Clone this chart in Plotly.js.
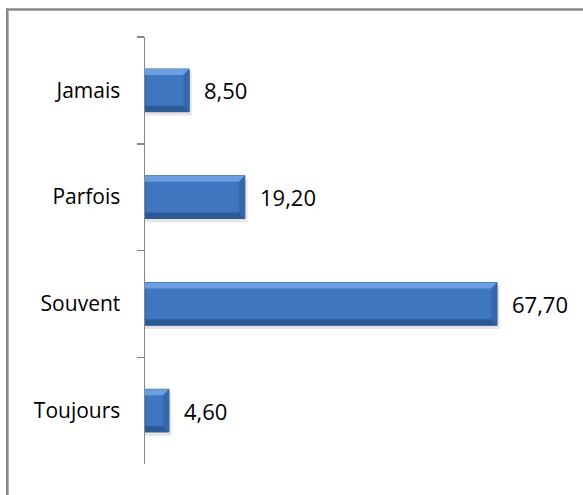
<!DOCTYPE html>
<html><head><meta charset="utf-8">
<script src="https://cdn.plot.ly/plotly-3.0.1.min.js"></script>
<style>html,body{margin:0;padding:0;background:#fff}#chart{width:583px;height:495px}</style>
</head><body><div id="chart"></div>
<script>
const categories = ["Jamais", "Parfois", "Souvent", "Toujours"];
const values = [8.5, 19.2, 67.7, 4.6];
const valueLabels = ["8,50", "19,20", "67,70", "4,60"];

const FONT = '"Open Sans", "Noto Sans", sans-serif';
const trace = {
  type: 'bar', orientation: 'h',
  x: values, y: categories,
  marker: {color: '#3e77c0', line: {color: '#2d5a94', width: 1}},
  hoverinfo: 'skip'
};
const annotations = categories.map((c, i) => ({
  x: values[i], y: c, xref: 'x', yref: 'y',
  text: valueLabels[i], showarrow: false,
  xanchor: 'left', xshift: 13,
  font: {family: FONT, size: 22, color: '#000'}
}));
const half = 0.2, bev = 0.055, bevX = 1.1;
const shapes = [{
  type: 'path', xref: 'paper', yref: 'paper',
  path: `M ${(7.3 - 145) / 416} ${(464 - 520) / 427} L ${(7.3 - 145) / 416} ${(464 - 9.5) / 427} L ${(620 - 145) / 416} ${(464 - 9.5) / 427}`,
  line: {color: '#888', width: 2.6}, layer: 'below'
}];
values.forEach((v, i) => {
  // soft shadow
  shapes.push({type: 'rect', xref: 'x', yref: 'y', x0: 0, x1: v + 0.5, y0: i - half + 0.03, y1: i + half + 0.035,
    fillcolor: 'rgba(0,0,0,0.10)', line: {width: 0}, layer: 'below'});
  // top bevel (light)
  shapes.push({type: 'path', xref: 'x', yref: 'y',
    path: `M 0 ${i - half} L ${v} ${i - half} L ${v - bevX} ${i - half + bev} L 0 ${i - half + bev} Z`,
    fillcolor: '#6b9fdf', line: {width: 0}, layer: 'above'});
  // bottom bevel (dark)
  shapes.push({type: 'path', xref: 'x', yref: 'y',
    path: `M 0 ${i + half} L ${v} ${i + half} L ${v - bevX} ${i + half - bev} L 0 ${i + half - bev} Z`,
    fillcolor: '#2b5a97', line: {width: 0}, layer: 'above'});
  // right bevel
  shapes.push({type: 'path', xref: 'x', yref: 'y',
    path: `M ${v} ${i - half} L ${v} ${i + half} L ${v - bevX} ${i + half - bev} L ${v - bevX} ${i - half + bev} Z`,
    fillcolor: '#3468ab', line: {width: 0}, layer: 'above'});
});
const layout = {
  width: 583, height: 495,
  margin: {l: 145, r: 22, t: 37, b: 31},
  paper_bgcolor: '#fff', plot_bgcolor: '#fff',
  showlegend: false, bargap: 0.6,
  xaxis: {range: [0, 80], visible: false, fixedrange: true},
  yaxis: {
    type: 'category', categoryorder: 'array', categoryarray: categories,
    autorange: 'reversed',
    showline: true, linecolor: '#888', linewidth: 1.5,
    ticks: 'outside', tickson: 'boundaries', ticklen: 7, tickcolor: '#888', tickwidth: 1.5,
    showgrid: false, zeroline: false,
    ticklabelstandoff: 19,
    tickfont: {family: FONT, size: 21, color: '#000'}
  },
  annotations: annotations,
  shapes: shapes
};
Plotly.newPlot('chart', [trace], layout, {displayModeBar: false, staticPlot: true});
</script></body></html>
